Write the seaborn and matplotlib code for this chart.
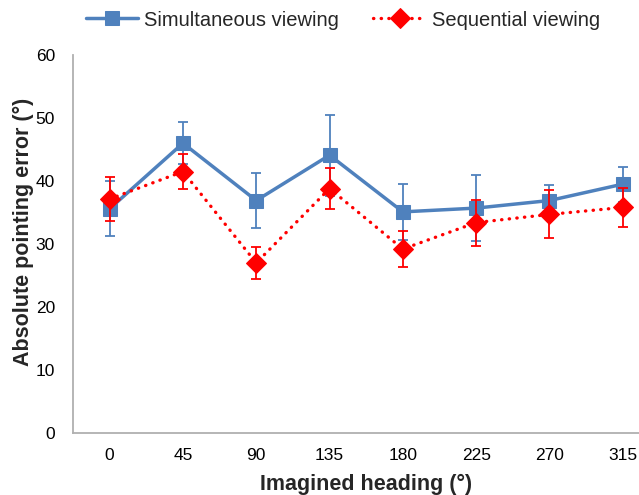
import numpy as np
import pandas as pd
import matplotlib
matplotlib.use("Agg")
import matplotlib.pyplot as plt
import seaborn as sns

headings = ["0", "45", "90", "135", "180", "225", "270", "315"]
simultaneous = [35.6, 46.0, 36.9, 44.1, 35.1, 35.7, 36.9, 39.5]
simultaneous_err = [4.35, 3.3, 4.4, 6.45, 4.4, 5.2, 2.4, 2.8]
sequential = [37.15, 41.5, 27.0, 38.8, 29.2, 33.4, 34.7, 35.8]
sequential_err = [3.45, 2.8, 2.6, 3.2, 2.8, 3.65, 3.8, 3.1]

blue = "#4F81BD"
red = "#FF0000"

sns.set_style("white")
plt.rcParams["font.family"] = ["Liberation Sans", "DejaVu Sans"]

pos = np.arange(len(headings))
df_sim = pd.DataFrame({"pos": pos, "err": simultaneous})
df_seq = pd.DataFrame({"pos": pos, "err": sequential})

fig = plt.figure(figsize=(6.39, 4.95), dpi=100)
ax = fig.add_axes([73 / 639, 62 / 495, 8 * 73.3 / 639, 378 / 495])

# error bars first, then the series
ax.errorbar(pos, simultaneous, yerr=simultaneous_err, fmt="none", ecolor=blue,
            elinewidth=1.3, capsize=3.6, capthick=1.3, zorder=2)
ax.errorbar(pos, sequential, yerr=sequential_err, fmt="none", ecolor=red,
            elinewidth=1.3, capsize=3.6, capthick=1.3, zorder=4)

sns.lineplot(data=df_sim, x="pos", y="err", ax=ax, color=blue, linewidth=2.5,
             marker="s", markersize=10, markeredgecolor=blue,
             label="Simultaneous viewing", zorder=3)
sns.lineplot(data=df_seq, x="pos", y="err", ax=ax, color=red, linewidth=2.4,
             linestyle=(0, (0.1, 2.2)), dash_capstyle="round",
             marker="D", markersize=10.5, markeredgecolor=red,
             label="Sequential viewing", zorder=5)

ax.set_xlim(-0.5, 7.5)
ax.set_ylim(0, 60)
ax.set_yticks(range(0, 61, 10))
ax.set_xticks(pos)
ax.set_xticklabels(headings)
ax.tick_params(axis="both", length=0, labelsize=12.5, colors="black")
ax.tick_params(axis="y", pad=13)
ax.tick_params(axis="x", pad=11)

for side in ["top", "right"]:
    ax.spines[side].set_visible(False)
for side in ["left", "bottom"]:
    ax.spines[side].set_color("#B0B0B0")
    ax.spines[side].set_linewidth(1.3)

ax.set_xlabel("Imagined heading (°)", fontsize=15.5, fontweight="bold", labelpad=8)
ax.set_ylabel("Absolute pointing error (°)", fontsize=15.5, fontweight="bold")
ax.yaxis.set_label_coords(-0.066, 0.532)

ax.legend(loc="center", bbox_to_anchor=(343 / 639, 1 - 20 / 495),
          bbox_transform=fig.transFigure, ncol=2, frameon=False,
          fontsize=14.5, handlelength=2.6, columnspacing=1.7, handletextpad=0.3)

fig.savefig("out.png", dpi=100)
